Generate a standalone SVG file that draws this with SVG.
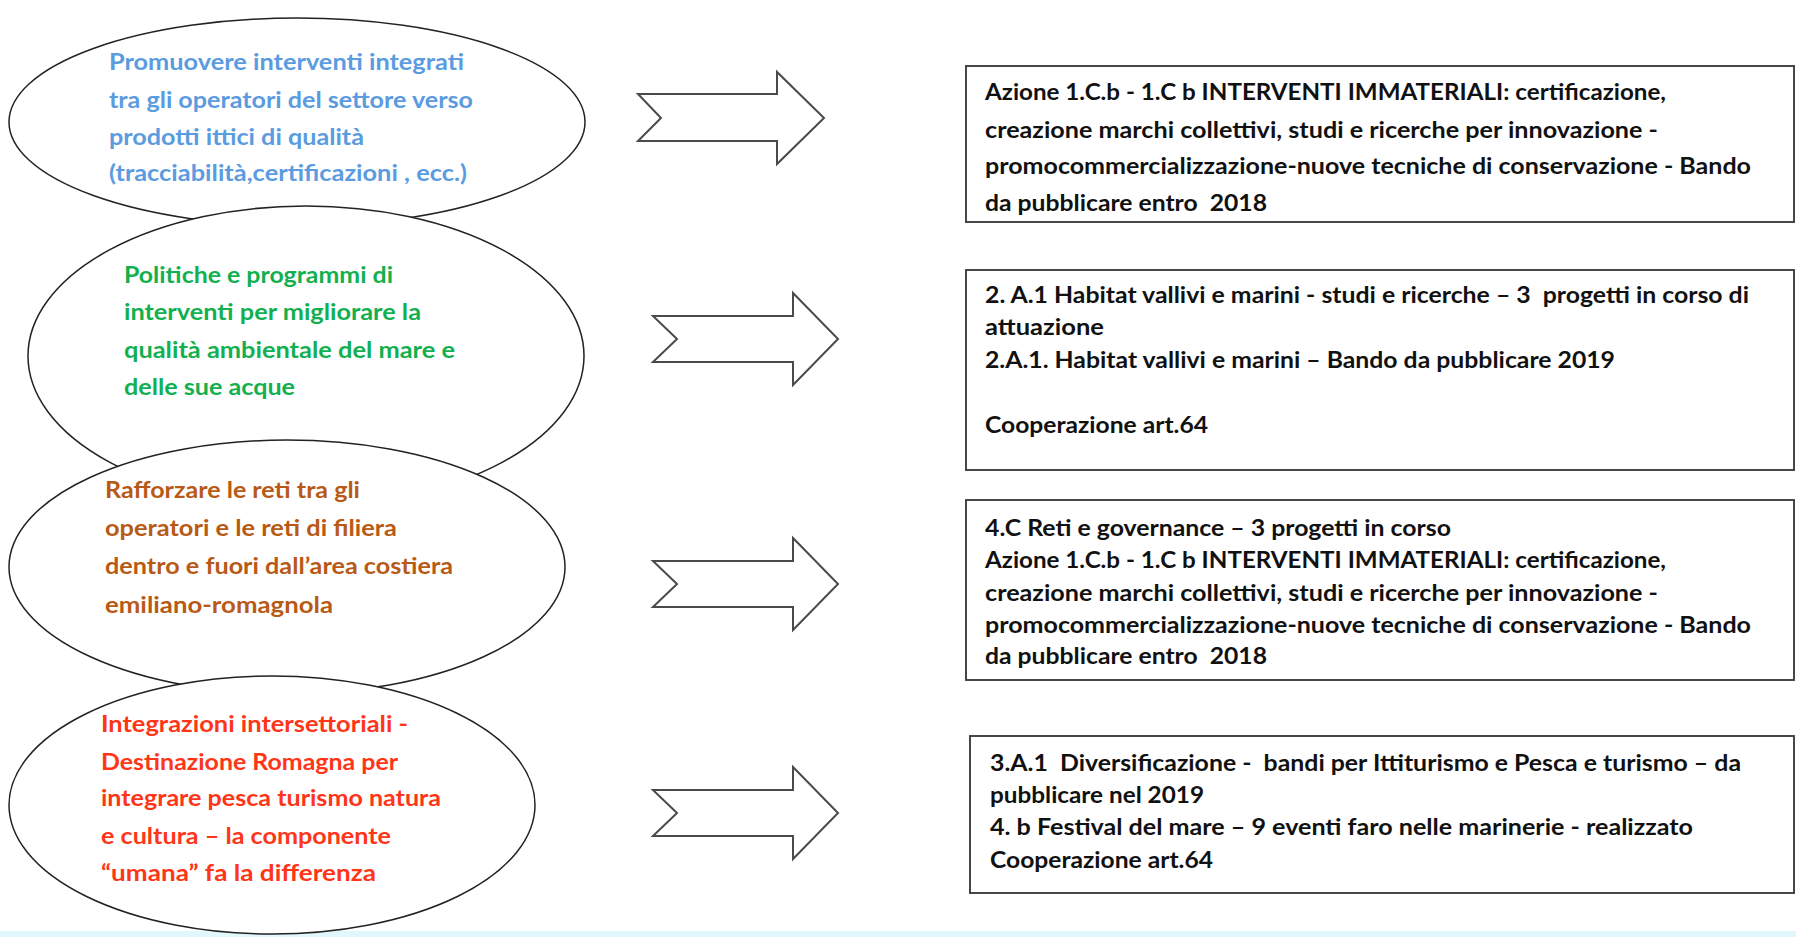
<svg xmlns="http://www.w3.org/2000/svg" width="1796" height="937" viewBox="0 0 1796 937">
<style>
.ell{fill:#fff;stroke:#222;stroke-width:1.5}
.box{fill:#fff;stroke:#333;stroke-width:1.8}
.arr{fill:#fff;stroke:#4a4a4a;stroke-width:2;stroke-linejoin:miter}
text{font-family:Lato,"Open Sans","Liberation Sans",sans-serif;font-weight:700;font-size:22px}
.t1{fill:#5b9be0}
.t2{fill:#12b04f}
.t3{fill:#b85a16}
.t4{fill:#ff3518}
.tb{fill:#111}
</style>
<rect x="0" y="0" width="1796" height="937" fill="#fff"/>
<rect x="0" y="931" width="1796" height="6" fill="#e2f7fb"/>
<g id="goal1">
<ellipse class="ell" cx="297" cy="122" rx="288" ry="104"/>
<text class="t1" x="109" y="70" textLength="355" lengthAdjust="spacingAndGlyphs">Promuovere interventi integrati</text>
<text class="t1" x="109" y="108" textLength="364" lengthAdjust="spacingAndGlyphs">tra gli operatori del settore verso</text>
<text class="t1" x="109" y="145" textLength="255" lengthAdjust="spacingAndGlyphs">prodotti ittici di qualità</text>
<text class="t1" x="109" y="181" textLength="358" lengthAdjust="spacingAndGlyphs">(tracciabilità,certificazioni , ecc.)</text>
</g>
<g id="goal2">
<ellipse class="ell" cx="306" cy="356" rx="278" ry="150"/>
<text class="t2" x="124" y="283" textLength="269" lengthAdjust="spacingAndGlyphs">Politiche e programmi di</text>
<text class="t2" x="124" y="320" textLength="297" lengthAdjust="spacingAndGlyphs">interventi per migliorare la</text>
<text class="t2" x="124" y="358" textLength="331" lengthAdjust="spacingAndGlyphs">qualità ambientale del mare e</text>
<text class="t2" x="124" y="395" textLength="171" lengthAdjust="spacingAndGlyphs">delle sue acque</text>
</g>
<g id="goal3">
<ellipse class="ell" cx="287" cy="567" rx="278" ry="127"/>
<text class="t3" x="105" y="498" textLength="255" lengthAdjust="spacingAndGlyphs">Rafforzare le reti tra gli</text>
<text class="t3" x="105" y="536" textLength="292" lengthAdjust="spacingAndGlyphs">operatori e le reti di filiera</text>
<text class="t3" x="105" y="574" textLength="348" lengthAdjust="spacingAndGlyphs">dentro e fuori dall’area costiera</text>
<text class="t3" x="105" y="613" textLength="228" lengthAdjust="spacingAndGlyphs">emiliano-romagnola</text>
</g>
<g id="goal4">
<ellipse class="ell" cx="272" cy="805" rx="263" ry="129"/>
<text class="t4" x="101" y="732" textLength="307" lengthAdjust="spacingAndGlyphs">Integrazioni intersettoriali -</text>
<text class="t4" x="101" y="770" textLength="297" lengthAdjust="spacingAndGlyphs">Destinazione Romagna per</text>
<text class="t4" x="101" y="806" textLength="340" lengthAdjust="spacingAndGlyphs">integrare pesca turismo natura</text>
<text class="t4" x="101" y="844" textLength="290" lengthAdjust="spacingAndGlyphs">e cultura – la componente</text>
<text class="t4" x="101" y="881" textLength="275" lengthAdjust="spacingAndGlyphs">“umana” fa la differenza</text>
</g>
<g id="connectors">
<path class="arr" d="M638,94 L777,94 L777,72 L824,118 L777,164 L777,141 L638,141 L661,118 Z"/>
<path class="arr" d="M653,316 L793,316 L793,293 L838,339 L793,385 L793,362 L653,362 L677,339 Z"/>
<path class="arr" d="M653,561 L793,561 L793,538 L838,584 L793,630 L793,607 L653,607 L677,584 Z"/>
<path class="arr" d="M653,790 L793,790 L793,767 L838,813 L793,859 L793,836 L653,836 L677,813 Z"/>
</g>
<g id="box1">
<rect class="box" x="966" y="66" width="828" height="156"/>
<text class="tb" x="985" y="100" textLength="681" lengthAdjust="spacingAndGlyphs">Azione 1.C.b - 1.C b INTERVENTI IMMATERIALI: certificazione,</text>
<text class="tb" x="985" y="138" textLength="673" lengthAdjust="spacingAndGlyphs">creazione marchi collettivi, studi e ricerche per innovazione -</text>
<text class="tb" x="985" y="174" textLength="766" lengthAdjust="spacingAndGlyphs">promocommercializzazione-nuove tecniche di conservazione - Bando</text>
<text class="tb" x="985" y="211" textLength="282" lengthAdjust="spacingAndGlyphs" xml:space="preserve">da pubblicare entro  2018</text>
</g>
<g id="box2">
<rect class="box" x="966" y="270" width="828" height="200"/>
<text class="tb" x="985" y="303" textLength="764" lengthAdjust="spacingAndGlyphs" xml:space="preserve">2. A.1 Habitat vallivi e marini - studi e ricerche – 3  progetti in corso di</text>
<text class="tb" x="985" y="335" textLength="119" lengthAdjust="spacingAndGlyphs">attuazione</text>
<text class="tb" x="985" y="368" textLength="630" lengthAdjust="spacingAndGlyphs">2.A.1. Habitat vallivi e marini – Bando da pubblicare 2019</text>
<text class="tb" x="985" y="433" textLength="223" lengthAdjust="spacingAndGlyphs">Cooperazione art.64</text>
</g>
<g id="box3">
<rect class="box" x="966" y="500" width="828" height="180"/>
<text class="tb" x="985" y="536" textLength="466" lengthAdjust="spacingAndGlyphs">4.C Reti e governance – 3 progetti in corso</text>
<text class="tb" x="985" y="568" textLength="681" lengthAdjust="spacingAndGlyphs">Azione 1.C.b - 1.C b INTERVENTI IMMATERIALI: certificazione,</text>
<text class="tb" x="985" y="601" textLength="673" lengthAdjust="spacingAndGlyphs">creazione marchi collettivi, studi e ricerche per innovazione -</text>
<text class="tb" x="985" y="633" textLength="766" lengthAdjust="spacingAndGlyphs">promocommercializzazione-nuove tecniche di conservazione - Bando</text>
<text class="tb" x="985" y="664" textLength="282" lengthAdjust="spacingAndGlyphs" xml:space="preserve">da pubblicare entro  2018</text>
</g>
<g id="box4">
<rect class="box" x="970" y="736" width="824" height="157"/>
<text class="tb" x="990" y="771" textLength="751" lengthAdjust="spacingAndGlyphs" xml:space="preserve">3.A.1  Diversificazione -  bandi per Ittiturismo e Pesca e turismo – da</text>
<text class="tb" x="990" y="803" textLength="214" lengthAdjust="spacingAndGlyphs">pubblicare nel 2019</text>
<text class="tb" x="990" y="835" textLength="703" lengthAdjust="spacingAndGlyphs">4. b Festival del mare – 9 eventi faro nelle marinerie - realizzato</text>
<text class="tb" x="990" y="868" textLength="223" lengthAdjust="spacingAndGlyphs">Cooperazione art.64</text>
</g>
</svg>
